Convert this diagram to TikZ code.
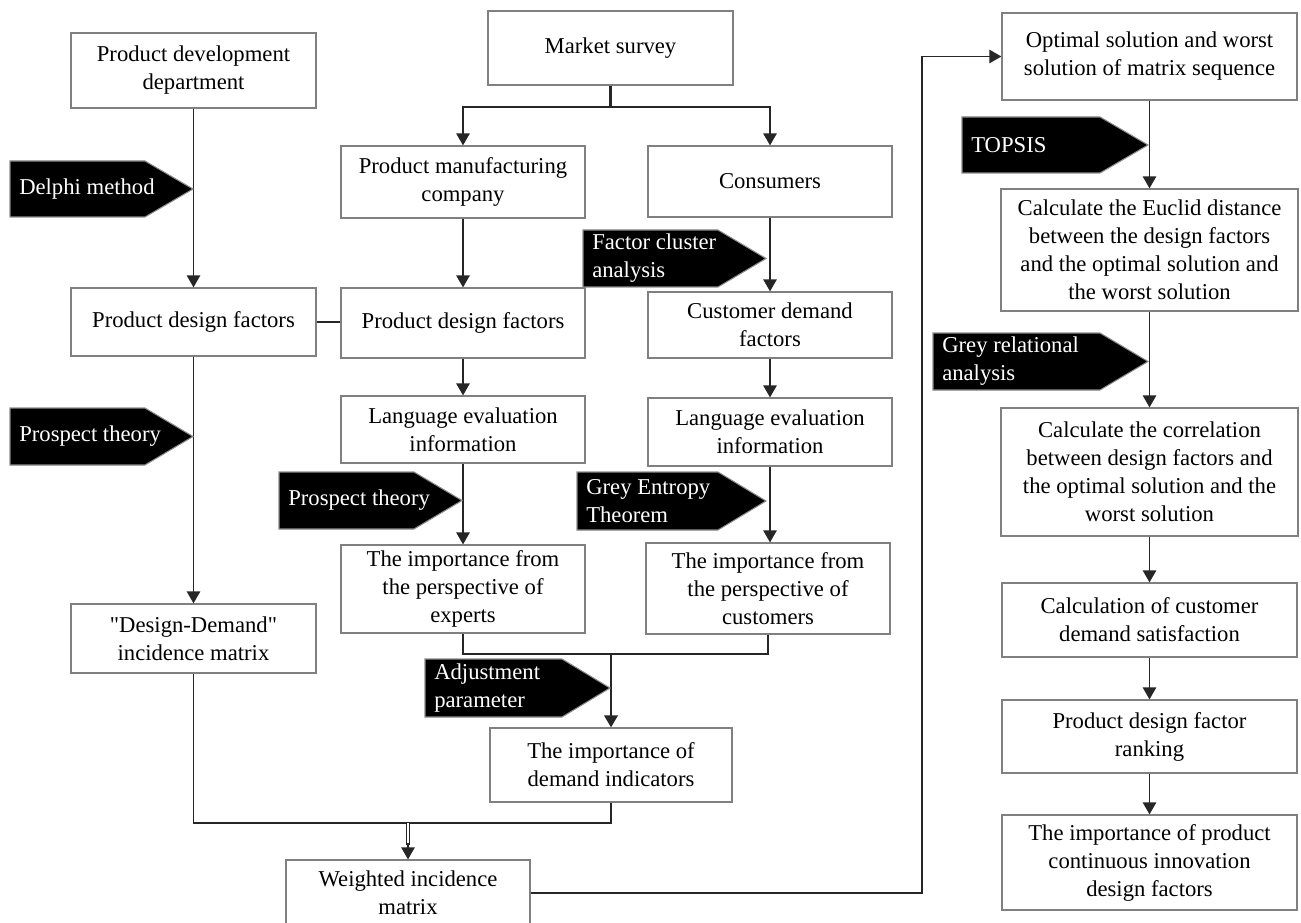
\documentclass[tikz,border=0pt]{standalone}
\usepackage{fontspec}
\setmainfont{Liberation Serif}
\newfontfamily\plainserif{Liberation Serif}
\usetikzlibrary{arrows.meta,calc}
\tikzset{
  box/.style={draw=black!50, line width=0.9pt, fill=white, align=center, inner sep=2pt,
    font=\fontsize{17}{21}\selectfont},
  ln/.style={line width=1.2pt, draw=black!85},
  arr/.style={ln, -{Triangle[length=9pt,width=10pt]}},
  heavy/.style={line width=2pt, draw=black!85},
  dbl/.style={line width=0.8pt, draw=black!85, double=white, double distance=2pt},
  tagfill/.style={fill=black, draw=black!45, line width=0.8pt},
  tagtext/.style={text=white, align=left, anchor=west, inner sep=0pt,
    font=\fontsize{17}{21}\selectfont},
}
\newcommand{\blacktag}[6]{%
  \filldraw[tagfill] (#2,#3) -- ({#4-48},#3) -- (#4,{(#3+#5)/2}) -- ({#4-48},#5) -- (#2,#5) -- cycle;
  \node[tagtext] (#1) at ({#2+9},{(#3+#5)/2}) {#6};
}
\begin{document}
\begin{tikzpicture}[x=0.75pt,y=-0.75pt]
\useasboundingbox (0,0) rectangle (1301,923);
\fill[white] (0,0) rectangle (1301,923);

% left column
\node[box, minimum width=183.75pt, minimum height=56.25pt] (pdd) at (193.5,70.5) {Product development\\department};
\node[box, minimum width=183.75pt, minimum height=51pt] (pdfl) at (193.5,322) {Product design factors};
\node[box, minimum width=183.75pt, minimum height=51.75pt] (ddm) at (193.5,638.5) {{\plainserif "Design-Demand"}\\incidence matrix};

% middle column
\node[box, minimum width=183.75pt, minimum height=55.5pt] (ms) at (610.5,48) {Market survey};
\node[box, minimum width=183pt, minimum height=54pt] (pmc) at (463,182) {Product manufacturing\\company};
\node[box, minimum width=183pt, minimum height=52.5pt] (pdfm) at (463,323) {Product design factors};
\node[box, minimum width=183pt, minimum height=50.25pt] (lem) at (463,429.5) {Language evaluation\\information};
\node[box, minimum width=183pt, minimum height=66pt] (impe) at (463,589) {The importance from\\the perspective of\\experts};

\node[box, minimum width=183pt, minimum height=53.25pt] (cons) at (770,181.5) {Consumers};
\node[box, minimum width=183pt, minimum height=49.5pt] (cdf) at (770,325) {Customer demand\\factors};
\node[box, minimum width=183pt, minimum height=51pt] (ler) at (770,432) {Language evaluation\\information};
\node[box, minimum width=183pt, minimum height=68.25pt] (impc) at (768,588.5) {The importance from\\the perspective of\\customers};

\node[box, minimum width=181.5pt, minimum height=55.5pt] (impd) at (611,765) {The importance of\\demand indicators};
\node[box, minimum width=183pt, minimum height=49.5pt] (wim) at (408,893) {Weighted incidence\\matrix};

% right column
\node[box, minimum width=221.25pt, minimum height=65.25pt] (opt) at (1149.5,56.5) {Optimal solution and worst\\solution of matrix sequence};
\node[box, minimum width=222.75pt, minimum height=91.5pt] (euc) at (1149.5,250) {Calculate the Euclid distance\\between the design factors\\and the optimal solution and\\the worst solution};
\node[box, minimum width=222.75pt, minimum height=96pt] (cor) at (1149.5,472) {Calculate the correlation\\between design factors and\\the optimal solution and the\\worst solution};
\node[box, minimum width=221.25pt, minimum height=55.5pt] (sat) at (1149.5,620) {Calculation of customer\\demand satisfaction};
\node[box, minimum width=221.25pt, minimum height=54.75pt] (rank) at (1149.5,736.5) {Product design factor\\ranking};
\node[box, minimum width=221.25pt, minimum height=71.25pt] (fin) at (1149.5,862.5) {The importance of product\\continuous innovation\\design factors};

% coordinates
\coordinate (msj) at (610.5,107);
\coordinate (jd) at (611,654);
\coordinate (jb) at (408,823);
\coordinate (bend) at (922,893);

% connectors
\draw[arr] (pdd.south) -- (pdfl.north);
\draw[arr] (pdfl.south) -- (ddm.north);
\draw[ln] (pdfl.east) -- (pdfl.east -| pdfm.west);

\draw[heavy] (ms.south) -- (msj);
\draw[arr] (msj) -| (pmc.north);
\draw[arr] (msj) -| (cons.north);
\draw[arr] (pmc.south) -- (pdfm.north);
\draw[arr] (cons.south) -- (cdf.north);
\draw[arr] (pdfm.south) -- (lem.north);
\draw[arr] (cdf.south) -- (ler.north);
\draw[arr] (lem.south) -- (impe.north);
\draw[arr] (ler.south) -- (ler.south |- impc.north);

\draw[ln] (impe.south) |- (jd);
\draw[ln] (impc.south) |- (jd);
\draw[heavy, -{Triangle[length=9pt,width=10pt]}] (jd) -- (impd.north);

\draw[ln] (ddm.south) -- (ddm.south |- jb) -- (impd.south |- jb) -- (impd.south);
\draw[dbl] (jb) -- ($(wim.north)+(0,-14)$);
\draw[arr] ($(wim.north)+(0,-16)$) -- (wim.north);

\draw[arr] (wim.east) -- (bend) |- (opt.west);
\draw[arr] (opt.south) -- (euc.north);
\draw[arr] (euc.south) -- (cor.north);
\draw[arr] (cor.south) -- (sat.north);
\draw[arr] (sat.south) -- (rank.north);
\draw[arr] (rank.south) -- (fin.north);

% black method tags
\blacktag{tdelphi}{10}{161}{193}{217}{Delphi method}
\blacktag{tpt1}{10}{408}{193}{465}{Prospect theory}
\blacktag{tfca}{583}{230}{766}{287}{Factor cluster\\analysis}
\blacktag{tpt2}{279}{472}{462}{529}{Prospect theory}
\blacktag{tget}{577}{472}{766}{530}{Grey Entropy\\Theorem}
\blacktag{tadj}{425}{659}{610}{717}{Adjustment\\parameter}
\blacktag{ttop}{962}{117}{1148}{173}{TOPSIS}
\blacktag{tgra}{933}{333}{1148}{390}{Grey relational\\analysis}
\end{tikzpicture}
\end{document}
